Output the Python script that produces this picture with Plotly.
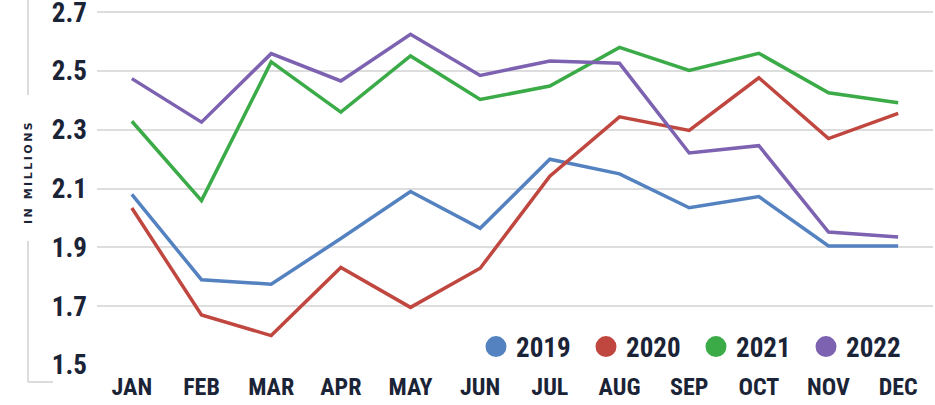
import plotly.graph_objects as go

months = ["JAN", "FEB", "MAR", "APR", "MAY", "JUN", "JUL", "AUG", "SEP", "OCT", "NOV", "DEC"]
years = ["2019", "2020", "2021", "2022"]
v2019 = [2.08, 1.79, 1.775, 1.93, 2.09, 1.965, 2.20, 2.15, 2.035, 2.073, 1.905, 1.905]
v2020 = [2.034, 1.67, 1.60, 1.832, 1.696, 1.829, 2.142, 2.344, 2.298, 2.477, 2.27, 2.356]
v2021 = [2.329, 2.059, 2.531, 2.36, 2.551, 2.403, 2.449, 2.58, 2.502, 2.56, 2.426, 2.392]
v2022 = [2.474, 2.326, 2.559, 2.466, 2.625, 2.485, 2.534, 2.526, 2.221, 2.246, 1.952, 1.935]
y_ticks = [1.5, 1.7, 1.9, 2.1, 2.3, 2.5, 2.7]

series = [v2019, v2020, v2021, v2022]
colors = ["#5482c0", "#c0473f", "#3bab48", "#7c62b0"]

FONT = "Liberation Sans Narrow, Roboto Condensed, DejaVu Sans Condensed, Arial Narrow, sans-serif"
INK = "#1b2436"

L, R, T, B = 97, 2, 11, 40
PW, PH = 935 - L - R, 405 - T - B

fig = go.Figure()
for name, vals, col in zip(years, series, colors):
    fig.add_trace(go.Scatter(x=months, y=vals, mode="lines", name=name,
                             line=dict(color=col, width=3.5), showlegend=False))
for name, col in zip(years, colors):
    fig.add_trace(go.Scatter(x=[None], y=[None], mode="markers", name=name,
                             marker=dict(color=col, size=22, line=dict(color=col, width=5)),
                             showlegend=True))

fig.update_layout(
    width=935, height=405,
    margin=dict(l=L, r=R, t=T, b=B),
    paper_bgcolor="white", plot_bgcolor="white",
    font=dict(family=FONT, color=INK),
    legend=dict(orientation="h", x=(476 - L) / PW, xanchor="left",
                y=(365 - 347) / PH, yanchor="middle",
                font=dict(size=27, family=FONT, color=INK, weight="bold"),
                itemsizing="trace", itemwidth=30, tracegroupgap=0,
                entrywidth=65, entrywidthmode="pixels",
                bgcolor="rgba(0,0,0,0)"),
    xaxis=dict(range=[-0.5, 11.5], showgrid=False, zeroline=False, automargin=False,
               tickfont=dict(size=24, family=FONT, color=INK, weight="bold"),
               showline=False, ticks="", ticklabelstandoff=5),
    yaxis=dict(range=[1.5, 2.704], tickvals=y_ticks, tickformat=".1f", automargin=False,
               showgrid=True, gridcolor="#dddddd", gridwidth=1.5, zeroline=False,
               tickfont=dict(size=27, family=FONT, color=INK, weight="bold"),
               ticks="", ticklabelstandoff=9, ticklabeloverflow="allow"),
)

fig.add_annotation(text="<span style='letter-spacing:2.5px'>IN MILLIONS</span>",
                   xref="paper", yref="paper", x=(28 - L) / PW, y=(365 - 172) / PH,
                   textangle=-90, showarrow=False, xanchor="center", yanchor="middle",
                   font=dict(size=11, family="DejaVu Sans, sans-serif", color=INK, weight="bold"))

line_style = dict(color="#d0d0d0", width=1.5)
px_x = lambda p: (p - L) / PW
px_y = lambda p: (365 - p) / PH
fig.add_shape(type="line", xref="paper", yref="paper", x0=px_x(28), x1=px_x(28), y0=px_y(-5), y1=px_y(95), line=line_style)
fig.add_shape(type="line", xref="paper", yref="paper", x0=px_x(28), x1=px_x(28), y0=px_y(241), y1=px_y(382), line=line_style)
fig.add_shape(type="line", xref="paper", yref="paper", x0=px_x(28), x1=px_x(53), y0=px_y(382), y1=px_y(382), line=line_style)

fig.write_html("out.html", config={"displayModeBar": False},
               post_script="document.body.style.margin='0';document.body.style.overflow='hidden';")
